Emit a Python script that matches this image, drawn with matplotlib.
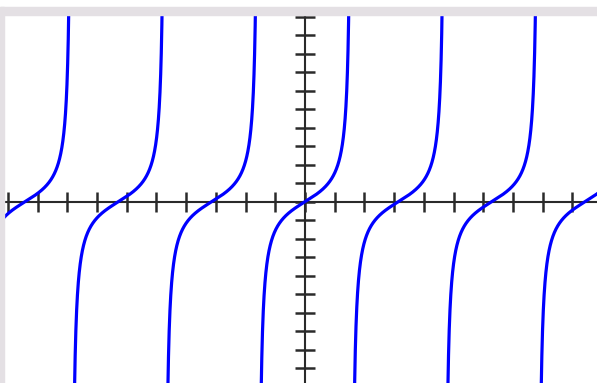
import numpy as np
import matplotlib.pyplot as plt
from matplotlib.patches import Rectangle

# plot window in graph units
x_min, x_max = -10.13, 9.83
y_min, y_max = -9.8, 10.1
x_ticks = list(range(-10, 10))
y_ticks = list(range(-9, 11))

curve_color = "#0000ff"
axis_color = "#2a2a2a"
frame_color = "#e4e0e4"

# y = tan(x), broken at the asymptotes
x = np.linspace(x_min, x_max, 6000)
y = np.tan(x)
y[np.abs(y) > 40] = np.nan

W, H = 597, 383
fig = plt.figure(figsize=(W / 100, H / 100), dpi=100, facecolor="white")

# light grey frame along the top and left edge
fig.patches.append(Rectangle((0, 0), 4 / W, (H - 7) / H, transform=fig.transFigure,
                             color=frame_color, zorder=0))
fig.patches.append(Rectangle((0, (H - 15) / H), 1, 8 / H, transform=fig.transFigure,
                             color=frame_color, zorder=0))

ax = fig.add_axes([4 / W, 0, 1 - 4 / W, (H - 15) / H])
ax.set_xlim(x_min, x_max)
ax.set_ylim(y_min, y_max)

ax.plot(x, y, color=curve_color, lw=2.3, zorder=3)

# axes through the origin
for side in ["left", "bottom"]:
    ax.spines[side].set_position("zero")
    ax.spines[side].set_color(axis_color)
    ax.spines[side].set_linewidth(1.5)
for side in ["right", "top"]:
    ax.spines[side].set_visible(False)

ax.set_xticks(x_ticks)
ax.set_yticks(y_ticks)
ax.set_xticklabels([])
ax.set_yticklabels([])
ax.tick_params(direction="inout", length=15, width=1.8, color=axis_color)

plt.savefig("out.png", dpi=100)
